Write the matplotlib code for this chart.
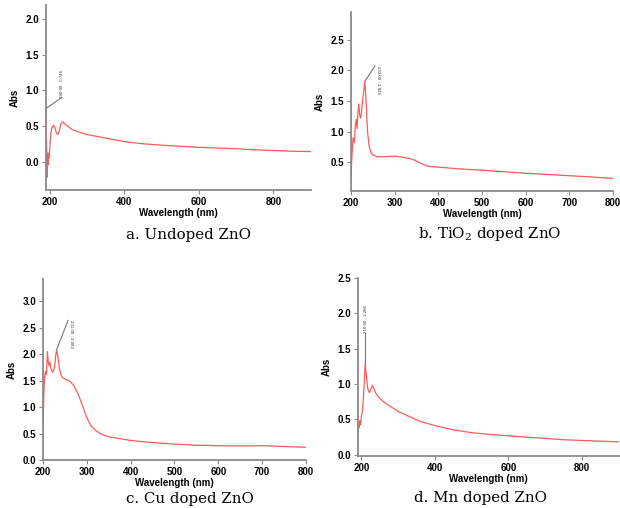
import numpy as np
import matplotlib
matplotlib.use("Agg")
import matplotlib.pyplot as plt

plt.rcParams['mathtext.fontset'] = 'dejavuserif'

# a. Undoped ZnO
wl_a = [190, 191, 192, 193, 194, 195, 196, 197, 198, 200, 203, 206, 210, 214, 218, 222, 226, 230, 235,
        240, 250, 260, 280, 300, 350, 400, 450, 500, 550, 600, 650, 700, 750, 800, 850, 900]
abs_a = [0.746, 0.42, 0.15, -0.22, 0.05, 0.12, -0.05, 0.10, 0.05, 0.18, 0.40, 0.48, 0.51, 0.47, 0.40, 0.38,
         0.44, 0.53, 0.56, 0.53, 0.49, 0.45, 0.41, 0.38, 0.33, 0.28, 0.25, 0.23, 0.215, 0.20, 0.19, 0.18,
         0.165, 0.155, 0.145, 0.14]

# b. TiO2 doped ZnO
wl_b = [200, 202, 205, 208, 210, 212, 214, 216, 218, 220, 222, 224, 226, 229, 232, 235, 238, 242, 246, 250,
        260, 280, 300, 320, 340, 350, 360, 370, 380, 400, 450, 500, 550, 600, 650, 700, 750, 800]
abs_b = [0.25, 0.55, 0.90, 0.82, 1.10, 1.20, 1.05, 1.30, 1.45, 1.28, 1.22, 1.30, 1.45, 1.65, 1.823, 1.45,
         1.00, 0.75, 0.66, 0.62, 0.59, 0.59, 0.60, 0.58, 0.55, 0.52, 0.48, 0.45, 0.43, 0.42, 0.39, 0.37,
         0.345, 0.32, 0.30, 0.28, 0.26, 0.235]

# c. Cu doped ZnO
wl_c = [200, 202, 204, 206, 208, 210, 212, 214, 216, 218, 220, 222, 224, 227, 229, 231, 234, 237, 241, 246,
        250, 260, 270, 280, 290, 300, 310, 320, 335, 350, 400, 450, 500, 550, 600, 650, 700, 750, 800]
abs_c = [0.60, 1.30, 1.60, 1.68, 1.62, 2.05, 1.85, 1.78, 1.85, 1.72, 1.70, 1.66, 1.68, 1.80, 1.98, 2.083,
         1.95, 1.75, 1.60, 1.55, 1.53, 1.50, 1.41, 1.25, 1.03, 0.80, 0.64, 0.56, 0.48, 0.44, 0.37, 0.33, 0.30,
         0.28, 0.27, 0.265, 0.27, 0.255, 0.24]

# d. Mn doped ZnO
wl_d = [190, 192, 194, 196, 198, 200, 203, 206, 208, 210, 213, 216, 219, 222, 225, 230, 235, 240, 250, 260,
        280, 300, 330, 360, 380, 400, 450, 500, 550, 600, 650, 700, 750, 800, 850, 900]
abs_d = [0.30, 0.45, 0.38, 0.48, 0.42, 0.55, 0.62, 0.85, 1.05, 1.286, 1.15, 0.98, 0.90, 0.88, 0.92, 0.98,
         0.92, 0.86, 0.80, 0.75, 0.68, 0.61, 0.54, 0.47, 0.44, 0.41, 0.35, 0.31, 0.285, 0.265, 0.245, 0.23,
         0.21, 0.20, 0.19, 0.18]

W, H = 620, 508

panels = [
    dict(wl=wl_a, ab=abs_a, rect=[0.0742, 0.626, 0.427, 0.364], xlim=(190, 900), ylim=(-0.4, 2.2),
         xt=[200, 400, 600, 800], yt=[0.0, 0.5, 1.0, 1.5, 2.0], cap="a. Undoped ZnO", cap_xy=(188, 235),
         peak=(190, 0.746), tip=(232, 0.9), lab="190.00 , 0.746", rot=90),
    dict(wl=wl_b, ab=abs_b, rect=[0.566, 0.624, 0.4226, 0.352], xlim=(200, 800), ylim=(0.03, 2.95),
         xt=[200, 300, 400, 500, 600, 700, 800], yt=[0.5, 1.0, 1.5, 2.0, 2.5],
         cap="b. TiO$_2$ doped ZnO", cap_xy=(490, 234),
         peak=(232, 1.823), tip=(255, 2.07), lab="232.00 , 1.823", rot=270),
    dict(wl=wl_c, ab=abs_c, rect=[0.0694, 0.0945, 0.424, 0.356], xlim=(200, 800), ylim=(0.0, 3.42),
         xt=[200, 300, 400, 500, 600, 700, 800], yt=[0.0, 0.5, 1.0, 1.5, 2.0, 2.5, 3.0],
         cap="c. Cu doped ZnO", cap_xy=(190, 499),
         peak=(231, 2.083), tip=(257, 2.64), lab="231.00 , 2.083", rot=270),
    dict(wl=wl_d, ab=abs_d, rect=[0.577, 0.1024, 0.421, 0.350], xlim=(190, 900), ylim=(-0.02, 2.5),
         xt=[200, 400, 600, 800], yt=[0.0, 0.5, 1.0, 1.5, 2.0, 2.5], cap="d. Mn doped ZnO", cap_xy=(480, 498),
         peak=(210, 1.286), tip=(210, 1.72), lab="210.00 , 1.286", rot=90),
]

fig = plt.figure(figsize=(6.2, 5.08), dpi=100)
grey = '#8a8a8a'

for p in panels:
    ax = fig.add_axes(p['rect'])
    ax.plot(p['wl'], p['ab'], color='#ff5a5a', lw=0.9)
    ax.set_xlim(*p['xlim'])
    ax.set_ylim(*p['ylim'])
    ax.set_xticks(p['xt'])
    ax.set_yticks(p['yt'])
    ax.set_yticklabels([f"{v:.1f}" for v in p['yt']])
    for s in ['top', 'right']:
        ax.spines[s].set_visible(False)
    for s in ['left', 'bottom']:
        ax.spines[s].set_color(grey)
        ax.spines[s].set_linewidth(1.3)
    ax.tick_params(direction='out', length=3, width=0.8, color=grey, pad=2)
    for t in ax.get_xticklabels() + ax.get_yticklabels():
        t.set_fontfamily('Liberation Sans')
        t.set_fontweight('bold')
        t.set_fontsize(7)
    ax.set_xlabel("Wavelength (nm)", family='Liberation Sans', weight='bold', fontsize=7, labelpad=1)
    ax.set_ylabel("Abs", family='Liberation Sans', weight='bold', fontsize=7, labelpad=4)

    # peak pick annotation
    px, py = p['peak']
    tx, ty = p['tip']
    ax.plot([px, tx], [py, ty], color='#777777', lw=0.8, clip_on=False)
    ax.text(tx + (3 if p['rot'] == 270 else 0), ty, p['lab'], rotation=p['rot'], fontsize=3.2,
            family='Liberation Sans', ha='left' if p['rot'] == 270 else 'center',
            va='top' if p['rot'] == 270 else 'bottom', color='#333333')

    cx, cy = p['cap_xy']
    fig.text(cx / W, 1 - cy / H, p['cap'], ha='center', va='center',
             family='DejaVu Serif', fontsize=10.8)

fig.savefig("out.png", dpi=100)
